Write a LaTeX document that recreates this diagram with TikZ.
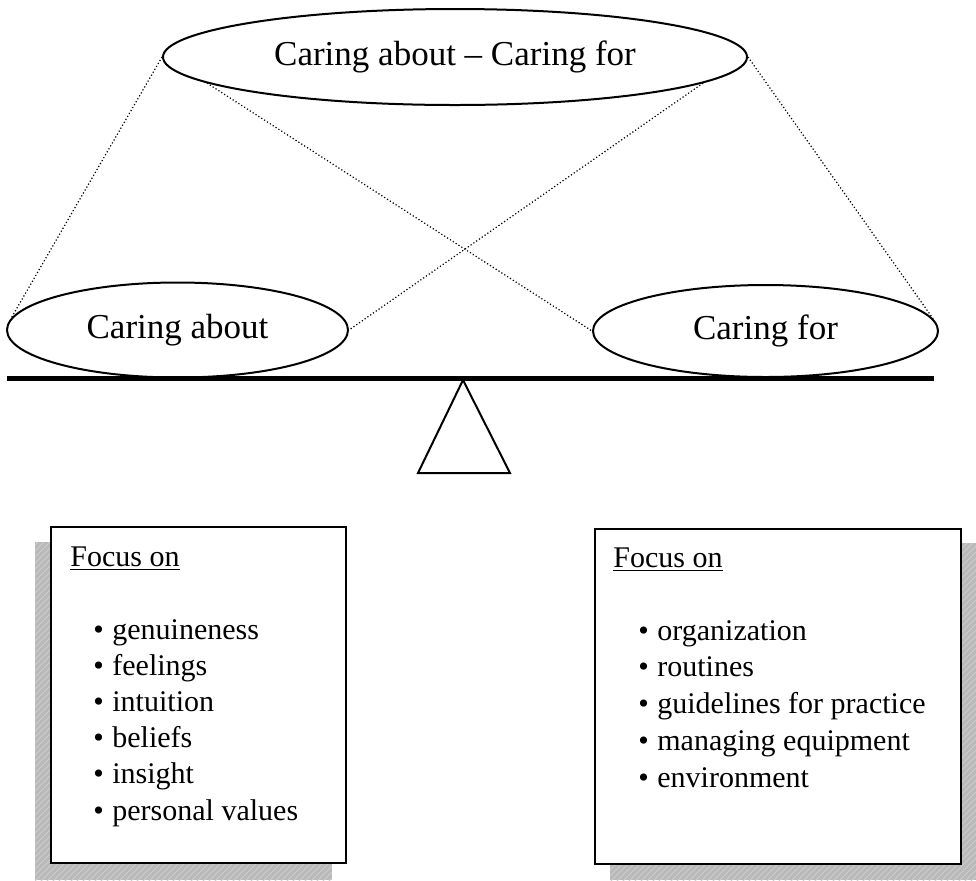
\documentclass[tikz,border=0pt]{standalone}
\usepackage{fontspec}
\setmainfont{Liberation Serif}
\usetikzlibrary{shapes.geometric,
                patterns, % for the hatched shadows
                backgrounds,
                positioning}

\begin{document}
\begin{tikzpicture}[x=0.5pt, y=-0.5pt,
                    Bubble/.style={draw, line width=1pt, ellipse, inner sep=0pt, fill=white,
                                   font=\fontsize{17.5}{21}\selectfont},
                    tie/.style={line width=0.6pt, dash pattern=on 0.6pt off 1.1pt},
                    focusbox/.style={draw, line width=1pt, fill=white, anchor=north west, inner sep=0pt},
                    boxshadow/.style={fill=gray!55, postaction={pattern=north east lines, pattern color=white!60!gray}},
                    item/.style={anchor=base west, inner sep=0pt, font=\fontsize{15}{18}\selectfont}
                    ]
    \useasboundingbox (0,0) rectangle (976,880);

    % BUBBLES %
    \node[Bubble, minimum width=292pt, minimum height=48pt] (both) at (455,57) {Caring about -- Caring for};
    \node[Bubble, minimum width=170.5pt, minimum height=47.5pt] (about) at (177.5,330) {Caring about};
    \node[Bubble, minimum width=172.5pt, minimum height=46pt] (for) at (765.5,331) {Caring for};

    \draw[tie] (both.west) -- (about.176);
    \draw[tie] (both.186) -- (for.west);
    \draw[tie] (both.354) -- (about.east);
    \draw[tie] (both.east) -- (for.4);

    % SCALE %
    \coordinate (beamL) at (7,378);
    \coordinate (beamR) at (934,378);
    \coordinate (pivot) at (463,380);
    \draw[line width=2.5pt] (beamL) -- (beamR);
    \draw[line width=1pt, line join=miter] (pivot) -- (418,473) -- (510,473) -- cycle;

    % FOCUS BOXES %
    \node[focusbox, minimum width=147.5pt, minimum height=168pt] (boxL) at (50,526) {};
    \node[focusbox, minimum width=183pt, minimum height=167.5pt] (boxR) at (594,528) {};

    \begin{scope}[on background layer]
    \fill[boxshadow] ([shift={(-15,16)}]boxL.north west) rectangle ([shift={(-15,16)}]boxL.south east);
    \fill[boxshadow] ([shift={(16,15)}]boxR.north west) rectangle ([shift={(16,15)}]boxR.south east);
    \end{scope}

    \node[item] (focusL) at (70,566) {\underline{Focus on}};
    \node[item] (focusR) at (613,567) {\underline{Focus on}};

    \foreach \txt [count=\i] in {genuineness, feelings, intuition, beliefs, insight, personal values}
    \node[item] (itemL\i) at (93,602.8+36.2*\i) {\makebox[9.5pt][l]{\textbullet}\txt};

    \foreach \txt [count=\i] in {organization, routines, guidelines for practice, managing equipment, environment}
    \node[item] (itemR\i) at (638,603.25+36.75*\i) {\makebox[9.5pt][l]{\textbullet}\txt};

\end{tikzpicture}
\end{document}
